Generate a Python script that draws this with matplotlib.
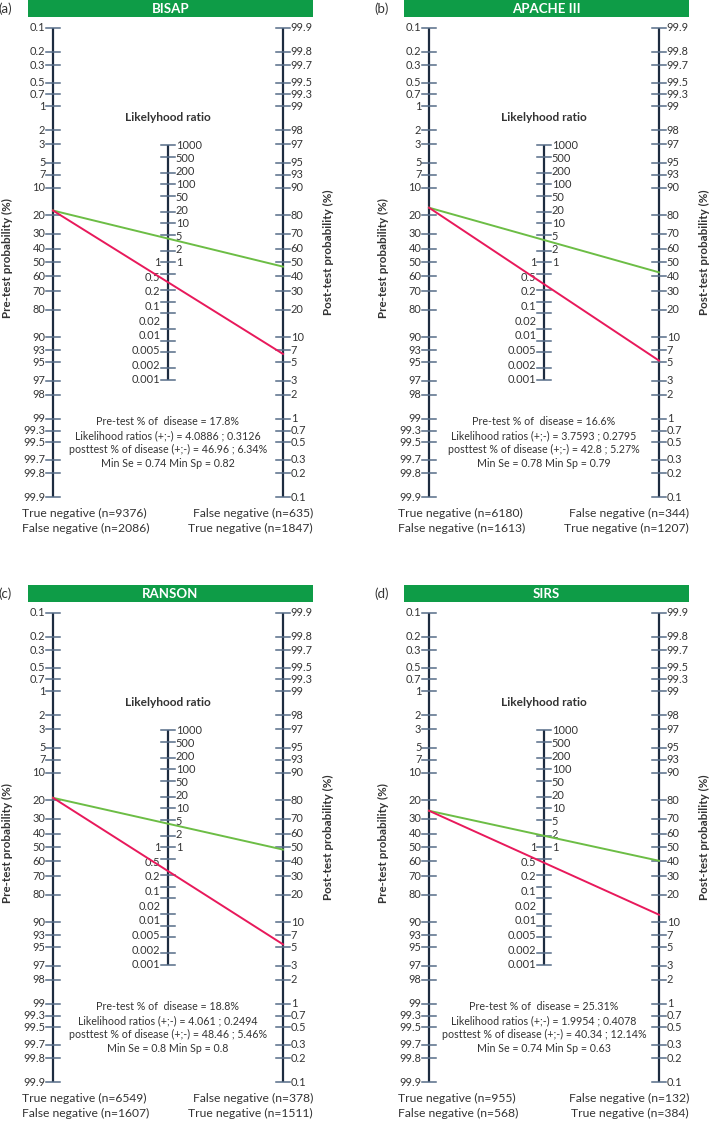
import numpy as np
import matplotlib
matplotlib.use("Agg")
import matplotlib.pyplot as plt
from matplotlib.patches import Rectangle

plt.rcParams["font.family"] = ["Lato", "DejaVu Sans"]

# panel data
titles = ["BISAP", "APACHE III", "RANSON", "SIRS"]
tags = ["(a)", "(b)", "(c)", "(d)"]
pretest = [17.8, 16.6, 18.8, 25.31]
lr_pos = [4.0886, 3.7593, 4.061, 1.9954]
lr_neg = [0.3126, 0.2795, 0.2494, 0.4078]
post_pos = [46.96, 42.8, 48.46, 40.34]
post_neg = [6.34, 5.27, 5.46, 12.14]
min_se = [0.74, 0.78, 0.8, 0.74]
min_sp = [0.82, 0.79, 0.8, 0.63]
left_counts = [(9376, 2086), (6180, 1613), (6549, 1607), (955, 568)]
right_counts = [(635, 1847), (344, 1207), (378, 1511), (132, 384)]

pre_ticks = [0.1, 0.2, 0.3, 0.5, 0.7, 1, 2, 3, 5, 7, 10, 20, 30, 40, 50, 60, 70, 80,
             90, 93, 95, 97, 98, 99, 99.3, 99.5, 99.7, 99.8, 99.9]
post_ticks = [99.9, 99.8, 99.7, 99.5, 99.3, 99, 98, 97, 95, 93, 90, 80, 70, 60, 50,
              40, 30, 20, 10, 7, 5, 3, 2, 1, 0.7, 0.5, 0.3, 0.2, 0.1]
lr_ticks = [1000, 500, 200, 100, 50, 20, 10, 5, 2, 1,
            0.5, 0.2, 0.1, 0.05, 0.02, 0.01, 0.005, 0.002, 0.001]
lr_labels_right = ["1000", "500", "200", "100", "50", "20", "10", "5", "2", "1"]
lr_labels_left = ["1", "0.5", "0.2", "0.1", "0.02", "0.01", "0.005", "0.002", "0.001"]

BAR = "#0e9c47"
GREEN = "#6cbd45"
RED = "#e8195b"
AXC = "#1d2c40"
TICKC = "#566c88"
TXT = "#333333"


def logit(p):
    p = np.asarray(p, dtype=float) / 100.0
    return np.log(p / (1 - p))


fig = plt.figure(figsize=(7.09, 11.22), dpi=100)
FW, FH = 709, 1122

# panel layout (pixels): axis at local x=53 / 283, centre y=262.5, 33.96 px per logit unit
XL, XR, YC, K = 53.0, 283.0, 262.5, 33.96
BOX_X0, BOX_X1, BOX_Y0, BOX_Y1 = -3, 333, -2, 545
origins = [(0, 0), (376, 0), (0, 585), (376, 585)]


def X(lx):
    return (lx - XL) / (XR - XL)


def Y(ly):
    return (YC - ly) / K


tick_half = 7 / (XR - XL)
TS = 7.9  # tick label size

for i, (ox, oy) in enumerate(origins):
    ax = fig.add_axes([(ox + BOX_X0) / FW, 1 - (oy + BOX_Y1) / FH,
                       (BOX_X1 - BOX_X0) / FW, (BOX_Y1 - BOX_Y0) / FH])
    ax.set_xlim(X(BOX_X0), X(BOX_X1))
    ax.set_ylim(Y(BOX_Y1), Y(BOX_Y0))
    ax.axis("off")

    # header bar
    ax.add_patch(Rectangle((X(28), Y(17.5)), X(313) - X(28), Y(0.5) - Y(17.5),
                           color=BAR, lw=0, clip_on=False))
    ax.text(X(170.5), Y(9), titles[i], color="white", fontsize=9.5, fontweight="bold",
            ha="center", va="center")
    ax.text(X(-2), Y(9), tags[i], color=TXT, fontsize=9.5, ha="left", va="center",
            clip_on=False)

    # pre-test axis (left)
    yl = -logit(pre_ticks)
    ax.plot([0, 0], [yl.min(), yl.max()], color=AXC, lw=1.6, solid_capstyle="butt")
    for v, y in zip(pre_ticks, yl):
        ax.plot([-tick_half, tick_half], [y, y], color=TICKC, lw=1.1)
        ax.text(-tick_half - 0.003, y, f"{v:g}", fontsize=TS, color=TXT,
                ha="right", va="center")

    # post-test axis (right)
    yr = logit(post_ticks)
    ax.plot([1, 1], [yr.min(), yr.max()], color=AXC, lw=1.6, solid_capstyle="butt")
    for v, y in zip(post_ticks, yr):
        ax.plot([1 - tick_half, 1 + tick_half], [y, y], color=TICKC, lw=1.1)
        ax.text(1 + tick_half + 0.003, y, f"{v:g}", fontsize=TS, color=TXT,
                ha="left", va="center")

    # likelihood ratio axis (middle)
    ym = np.log(lr_ticks) / 2
    ax.plot([0.5, 0.5], [ym.min(), ym.max()], color=AXC, lw=1.6, solid_capstyle="butt")
    for y in ym:
        ax.plot([0.5 - tick_half, 0.5 + tick_half], [y, y], color=TICKC, lw=1.1)
    y_top, y_one, y_bot = np.log(1000) / 2, 0.0, np.log(0.001) / 2
    for lab, y in zip(lr_labels_right, np.linspace(y_top, y_one, len(lr_labels_right))):
        ax.text(0.5 + tick_half + 0.003, y, lab, fontsize=TS, color=TXT,
                ha="left", va="center")
    for lab, y in zip(lr_labels_left, np.linspace(y_one, y_bot, len(lr_labels_left))):
        ax.text(0.5 - tick_half - 0.003, y, lab, fontsize=TS, color=TXT,
                ha="right", va="center")
    ax.text(0.5, Y(118), "Likelyhood ratio", fontsize=8.6, fontweight="bold",
            color=TXT, ha="center", va="center")

    # nomogram lines
    y0 = -logit(pretest[i])
    ax.plot([0, 1], [y0, logit(post_pos[i])], color=GREEN, lw=1.4, zorder=5)
    ax.plot([0, 1], [y0, logit(post_neg[i])], color=RED, lw=1.4, zorder=5)

    # axis titles
    ax.text(X(7), Y(258), "Pre-test probability (%)", rotation=90, fontsize=8.4,
            fontweight="bold", color=TXT, ha="center", va="center", clip_on=False)
    ax.text(X(328), Y(252), "Post-test probability (%)", rotation=90, fontsize=8.4,
            fontweight="bold", color=TXT, ha="center", va="center", clip_on=False)

    # summary text
    lines = [
        f"Pre-test % of  disease = {pretest[i]:g}%",
        f"Likelihood ratios (+;-) = {lr_pos[i]:g} ; {lr_neg[i]:g}",
        f"posttest % of disease (+;-) = {post_pos[i]:g} ; {post_neg[i]:g}%",
        f"Min Se = {min_se[i]:g} Min Sp = {min_sp[i]:g}",
    ]
    for j, s in enumerate(lines):
        ax.text(0.5, Y(421.7 + 14 * j), s, fontsize=7.7, color=TXT,
                ha="center", va="center")

    # counts
    ax.text(X(22), Y(513), f"True negative (n={left_counts[i][0]})", fontsize=8.7,
            color=TXT, ha="left", va="center")
    ax.text(X(22), Y(528), f"False negative (n={left_counts[i][1]})", fontsize=8.7,
            color=TXT, ha="left", va="center")
    ax.text(X(313), Y(513), f"False negative (n={right_counts[i][0]})", fontsize=8.7,
            color=TXT, ha="right", va="center")
    ax.text(X(313), Y(528), f"True negative (n={right_counts[i][1]})", fontsize=8.7,
            color=TXT, ha="right", va="center")

fig.savefig("out.png", dpi=100)
